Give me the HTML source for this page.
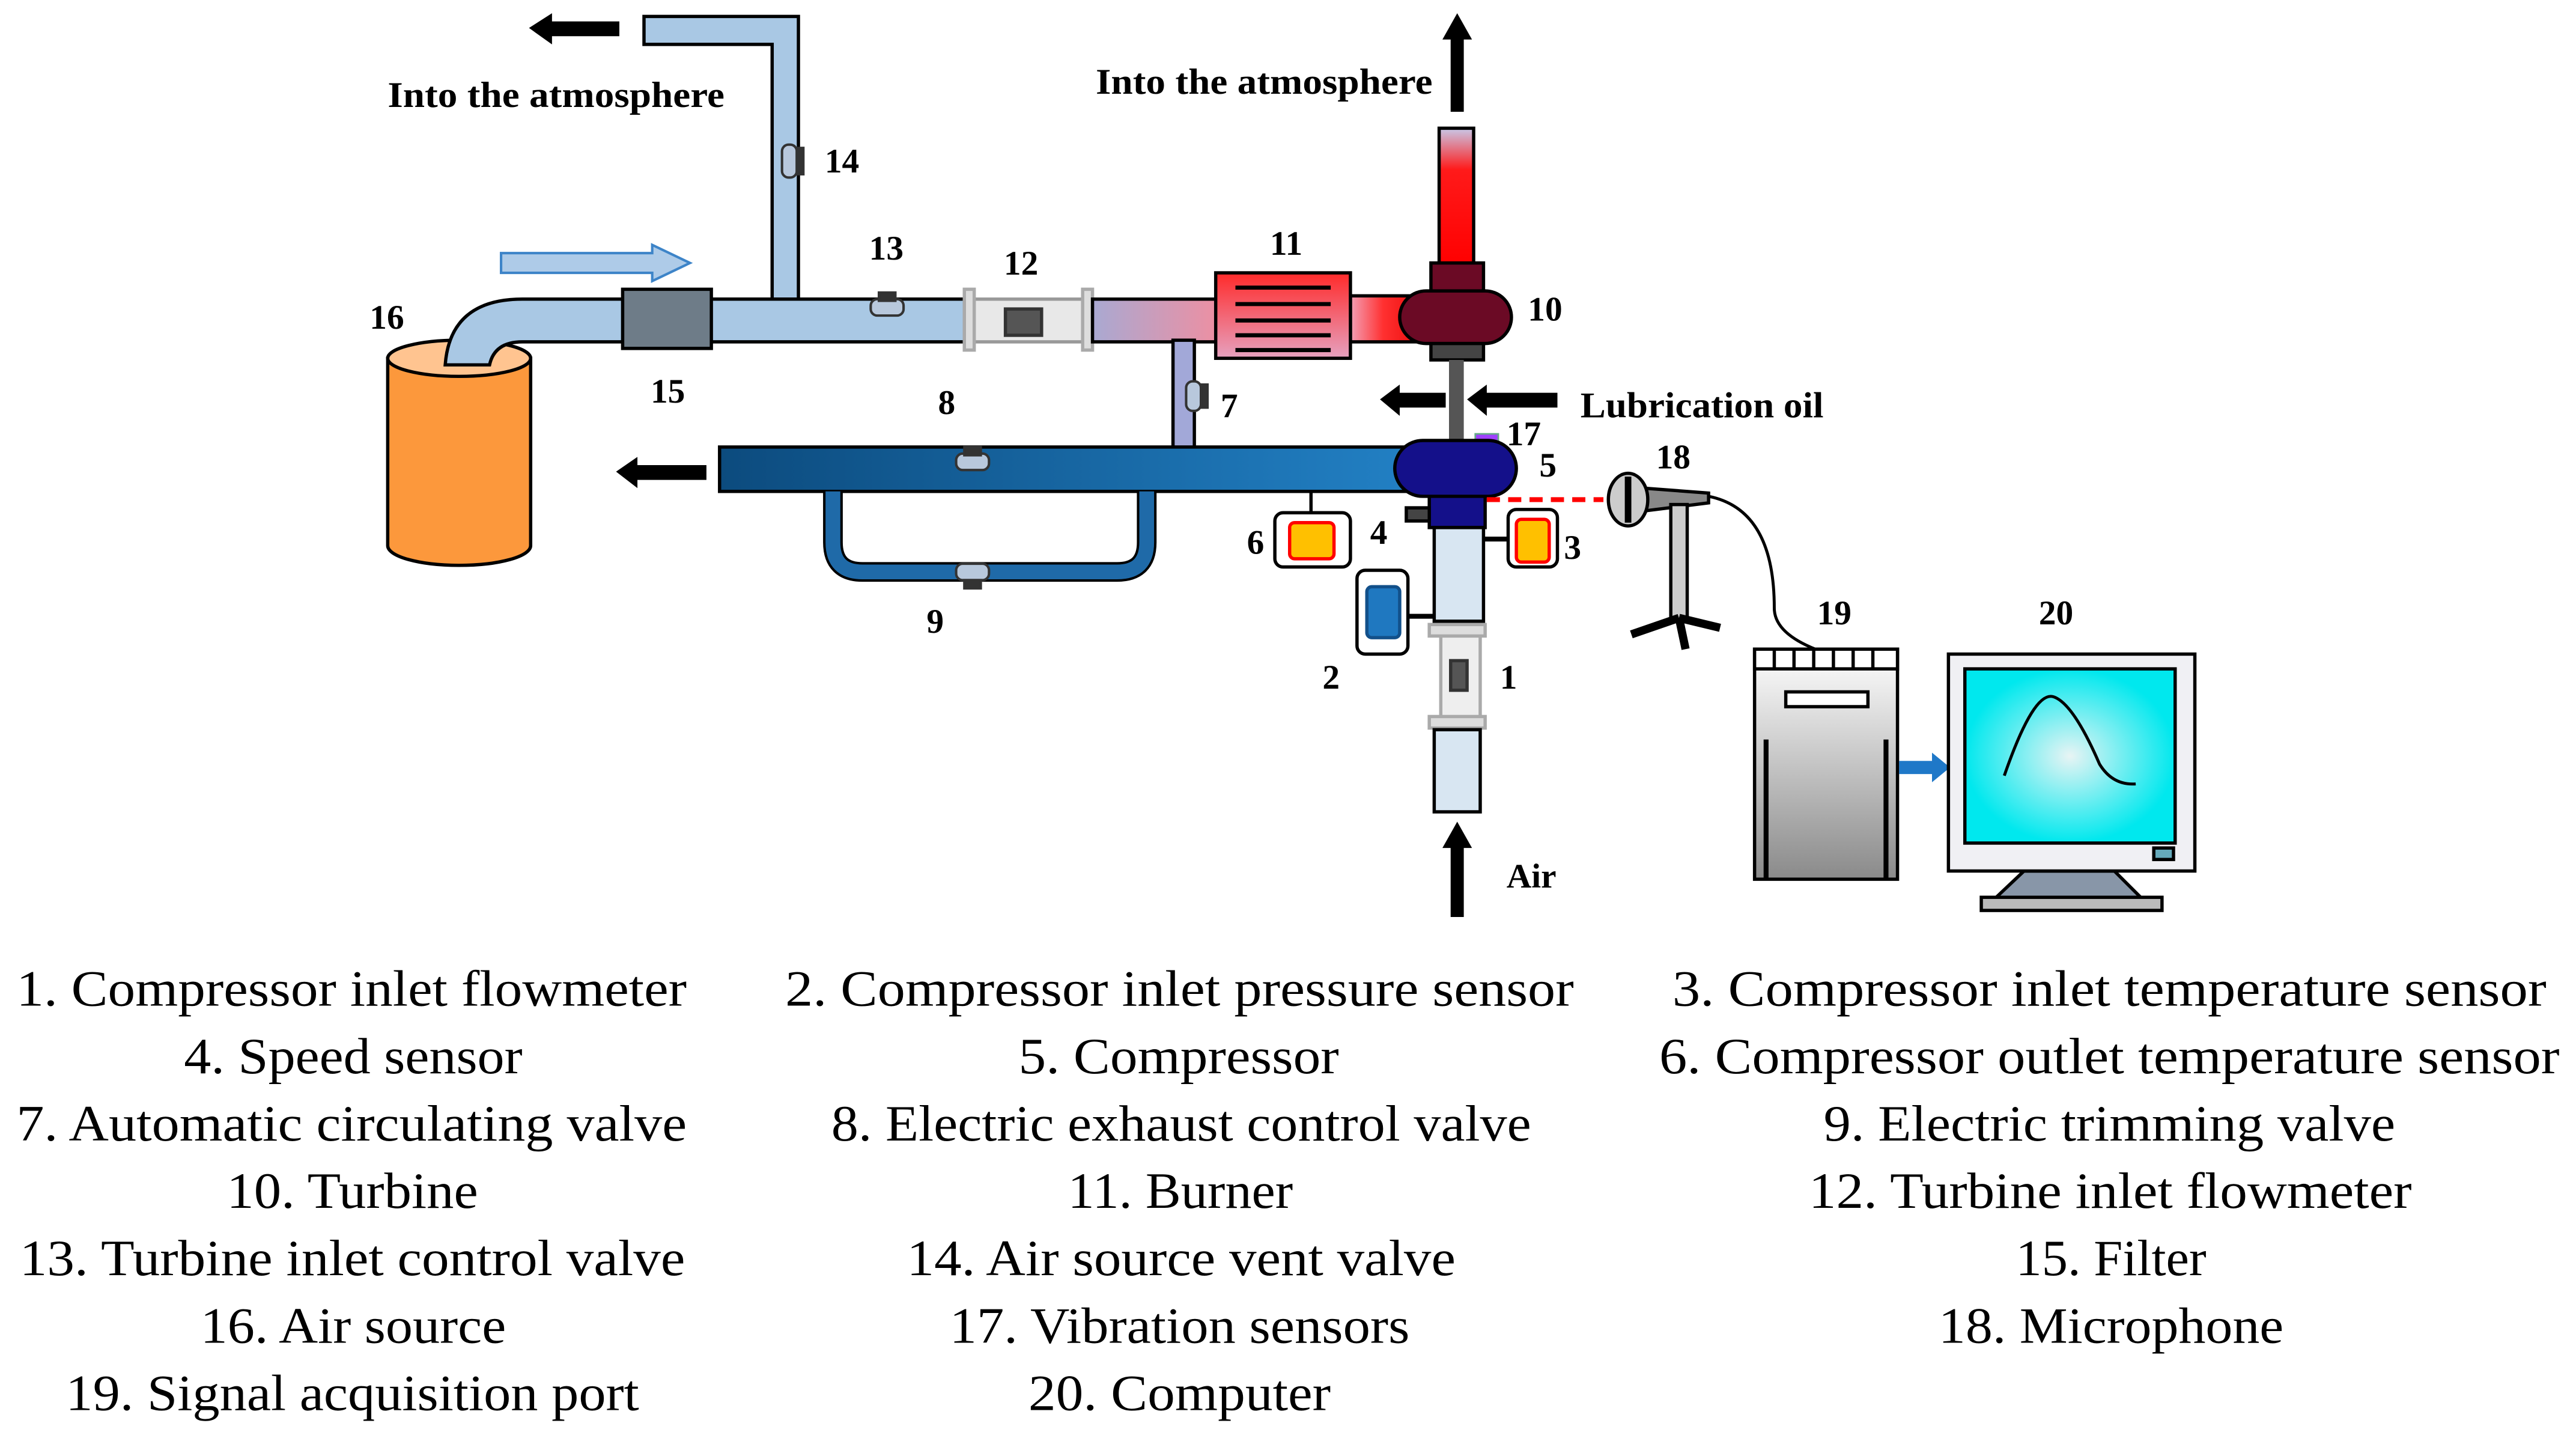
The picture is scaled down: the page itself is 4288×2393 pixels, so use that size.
<!DOCTYPE html>
<html><head><meta charset="utf-8"><style>
html,body{margin:0;padding:0;background:#fff;}
svg{display:block;}
</style></head><body>
<svg width="4288" height="2393" viewBox="0 0 1568 875" xmlns="http://www.w3.org/2000/svg">
<defs>
<linearGradient id="gp" x1="0" x2="1" y1="0" y2="0"><stop offset="0" stop-color="#a9a9d2"/><stop offset="1" stop-color="#f08ea0"/></linearGradient>
<linearGradient id="gb" x1="0" x2="0" y1="0" y2="1"><stop offset="0" stop-color="#ff2a2a"/><stop offset="1" stop-color="#e6a2c0"/></linearGradient>
<linearGradient id="gr" x1="0" x2="1"><stop offset="0" stop-color="#f3a0b6"/><stop offset="0.5" stop-color="#ff3030"/><stop offset="1" stop-color="#ee1010"/></linearGradient>
<linearGradient id="gs" x1="0" x2="0" y1="0" y2="1"><stop offset="0" stop-color="#c8c8e8"/><stop offset="0.3" stop-color="#ff1a1a"/><stop offset="1" stop-color="#ff0000"/></linearGradient>
<linearGradient id="gd" x1="0" x2="1"><stop offset="0" stop-color="#0c4b7e"/><stop offset="1" stop-color="#2280c4"/></linearGradient>
<linearGradient id="gc" x1="0" x2="0" y1="0" y2="1"><stop offset="0" stop-color="#ffffff"/><stop offset="1" stop-color="#8a8a8a"/></linearGradient>
<radialGradient id="gm"><stop offset="0" stop-color="#e8f4f4"/><stop offset="1" stop-color="#00e8ee"/></radialGradient>
</defs>
<g stroke="#000" stroke-width="2">
<!-- vent pipe -->
<path d="M392 10 H486 V182 H470 V27 H392 Z" fill="#a9c8e4"/>
<!-- cylinder -->
<path d="M236 218 V332 A43.5 12 0 0 0 323 332 V218 Z" fill="#fc983c"/>
<ellipse cx="279.5" cy="218" rx="43.5" ry="11" fill="#ffc490"/>
<!-- main pipe with elbow -->
<path d="M318 182 H590 V208 H318 Q301 208 298 222 H271 Q274 182 318 182 Z" fill="#a9c8e4"/>
<rect x="379" y="176" width="54" height="36" fill="#6e7c88"/>
<!-- flowmeter 12 -->
<rect x="587" y="182" width="78" height="26" fill="#e8e8e8" stroke="#999"/>
<rect x="587" y="176" width="6" height="37" fill="#ddd" stroke="#aaa"/>
<rect x="659" y="176" width="6" height="37" fill="#ddd" stroke="#aaa"/>
<rect x="612" y="188" width="22" height="16" fill="#555" stroke="#333"/>
<!-- gradient pipe & branch -->
<rect x="665" y="182" width="80" height="26" fill="url(#gp)"/>
<rect x="714" y="207" width="13" height="66" fill="#a2a8d8"/>
<!-- burner -->
<rect x="822" y="180" width="40" height="28" fill="url(#gr)"/>
<rect x="740" y="166" width="82" height="52" fill="url(#gb)"/>
<g stroke-width="2.5"><line x1="752" y1="175" x2="810" y2="175"/><line x1="752" y1="185" x2="810" y2="185"/><line x1="752" y1="195" x2="810" y2="195"/><line x1="752" y1="204" x2="810" y2="204"/><line x1="752" y1="213" x2="810" y2="213"/></g>
<!-- stack & turbine -->
<rect x="876" y="78" width="21" height="84" fill="url(#gs)"/>
<rect x="871" y="160" width="32" height="20" fill="#6b0a25"/>
<rect x="871" y="204" width="32" height="15" fill="#444"/>
<rect x="882" y="219" width="9" height="55" fill="#555" stroke="none"/>
<rect x="852" y="177" width="68" height="32" rx="16" fill="#6b0a25"/>
<!-- compressor outlet pipe -->
<rect x="438" y="272" width="422" height="27" fill="url(#gd)"/>
<path d="M507 299 V330 Q507 348 525 348 H680 Q698 348 698 330 V299" fill="none" stroke="#000" stroke-width="12"/>
<path d="M507 299 V330 Q507 348 525 348 H680 Q698 348 698 330 V299" fill="none" stroke="#1f6aa8" stroke-width="9"/>
<rect x="898" y="264" width="14" height="7" fill="#a040ff" stroke="#6a8" stroke-width="1"/>
<rect x="870" y="296" width="34" height="25" fill="#14108a"/>
<rect x="856" y="309" width="14" height="8" fill="#444"/>
<rect x="849" y="268" width="74" height="34" rx="17" fill="#14108a"/>
<!-- inlet -->
<rect x="873" y="321" width="30" height="57" fill="#d8e6f2"/>
<rect x="877" y="383" width="24" height="60" fill="#eee" stroke="#aaa"/>
<rect x="870" y="380" width="34" height="7" fill="#ddd" stroke="#aaa"/>
<rect x="870" y="436" width="34" height="7" fill="#ddd" stroke="#aaa"/>
<rect x="883" y="402" width="10" height="18" fill="#555" stroke="#333"/>
<rect x="873" y="444" width="28" height="50" fill="#d8e6f2"/>
<!-- sensors -->
<line x1="798" y1="299" x2="798" y2="312"/>
<rect x="776" y="312" width="46" height="33" rx="5" fill="#fff"/>
<rect x="785" y="318" width="27" height="22" rx="3" fill="#ffc000" stroke="#f00" stroke-width="2"/>
<line x1="903" y1="328" x2="918" y2="328" stroke-width="3"/>
<rect x="918" y="310" width="30" height="35" rx="5" fill="#fff"/>
<rect x="923" y="316" width="20" height="26" rx="3" fill="#ffc000" stroke="#f00" stroke-width="2"/>
<line x1="857" y1="375" x2="873" y2="375" stroke-width="3"/>
<rect x="826" y="347" width="31" height="51" rx="5" fill="#fff"/>
<rect x="832" y="357" width="20" height="31" rx="3" fill="#1f78c0" stroke="#12508a"/>
<!-- valves -->
<g fill="#b8c8dc" stroke="#333" stroke-width="1.5">
<rect x="476" y="88" width="9" height="20" rx="4"/><rect x="485" y="90" width="4" height="16" fill="#333"/>
<rect x="530" y="182" width="20" height="10" rx="4"/><rect x="535" y="178" width="10" height="5" fill="#333"/>
<rect x="722" y="232" width="9" height="18" rx="4"/><rect x="731" y="234" width="4" height="14" fill="#333"/>
<rect x="582" y="276" width="20" height="10" rx="4"/><rect x="587" y="272" width="10" height="5" fill="#333"/>
<rect x="582" y="343" width="20" height="10" rx="4"/><rect x="587" y="353" width="10" height="5" fill="#333"/>
</g>
</g>
<!-- arrows -->
<g fill="#000">
<path d="M322 17 L336 8 V13 H377 V22 H336 V27 Z"/>
<path d="M887 8 L896 24 H891 V68 H883 V24 H878 Z"/>
<path d="M840 243 L852 234 V239 H880 V248 H852 V253 Z"/>
<path d="M893 243 L905 234 V239 H948 V248 H905 V253 Z"/>
<path d="M375 287 L388 278 V283 H430 V292 H388 V297 Z"/>
<path d="M887 500 L896 516 H891 V558 H883 V516 H878 Z"/>
</g>
<path d="M305 154 H397 V149 L420 160 L397 171 V166 H305 Z" fill="#aecbe8" stroke="#3d84c8" stroke-width="1.5"/>
<line x1="905" y1="304" x2="976" y2="304" stroke="#f00" stroke-width="3" stroke-dasharray="8,5"/>
<!-- microphone -->
<g stroke="#000" stroke-width="2">
<path d="M1040 302 Q1080 310 1080 370 Q1080 385 1105 395" fill="none" stroke-width="1.8"/>
<path d="M1000 297 L1040 300 L1040 306 L1000 311 Z" fill="#888"/>
<ellipse cx="991" cy="304" rx="12" ry="16" fill="#ccc"/>
<line x1="991" y1="290" x2="991" y2="318" stroke-width="4"/>
<rect x="1017" y="307" width="10" height="70" fill="#ccc"/>
<path d="M1022 376 L993 386 M1022 376 L1047 382 M1022 376 L1026 395" stroke-width="5"/>
</g>
<!-- device 19 -->
<g stroke="#000" stroke-width="2">
<rect x="1068" y="395" width="87" height="140" fill="url(#gc)"/>
<rect x="1068" y="395" width="87" height="12" fill="#fff"/>
<path d="M1080 395 V407 M1092 395 V407 M1104 395 V407 M1116 395 V407 M1128 395 V407 M1140 395 V407"/>
<rect x="1087" y="421" width="50" height="9" fill="#fff"/>
<path d="M1075 450 V535 M1148 450 V535" stroke-width="3"/>
</g>
<path d="M1156 463 H1176 V458 L1187 467 L1176 476 V471 H1156 Z" fill="#1f78c8"/>
<!-- monitor -->
<g stroke="#000" stroke-width="2">
<path d="M1232 530 L1213 548 H1305 L1287 530 Z" fill="#8896a8"/>
<rect x="1206" y="546" width="110" height="8" fill="#bbb"/>
<rect x="1186" y="398" width="150" height="132" fill="#f0f0f4"/>
<rect x="1196" y="407" width="128" height="106" fill="url(#gm)"/>
<rect x="1311" y="516" width="12" height="7" fill="#6ab"/>
<path d="M1220 472 Q1238 420 1250 424 Q1262 428 1278 465 Q1286 478 1300 477" fill="none" stroke-width="1.8"/>
</g>
<!-- labels -->
<g font-family="Liberation Serif, serif" font-weight="bold" font-size="21" fill="#000">
<text x="236" y="65" font-size="22" textLength="205" lengthAdjust="spacingAndGlyphs">Into  the atmosphere</text>
<text x="667" y="57" font-size="22" textLength="205" lengthAdjust="spacingAndGlyphs">Into  the atmosphere</text>
<text x="962" y="254" font-size="22" textLength="148" lengthAdjust="spacingAndGlyphs">Lubrication oil</text>
<text x="917" y="540">Air</text>
<text x="502" y="105">14</text>
<text x="529" y="158">13</text>
<text x="611" y="167">12</text>
<text x="773" y="155">11</text>
<text x="930" y="195">10</text>
<text x="225" y="200">16</text>
<text x="396" y="245">15</text>
<text x="571" y="252">8</text>
<text x="743" y="254">7</text>
<text x="917" y="271">17</text>
<text x="937" y="290">5</text>
<text x="1008" y="285">18</text>
<text x="834" y="331">4</text>
<text x="759" y="337">6</text>
<text x="952" y="340">3</text>
<text x="564" y="385">9</text>
<text x="805" y="419">2</text>
<text x="913" y="419">1</text>
<text x="1106" y="380">19</text>
<text x="1241" y="380">20</text>
</g>
<g font-family="Liberation Serif, serif" font-size="31" fill="#000" lengthAdjust="spacingAndGlyphs">
<text x="10" y="612" textLength="408" lengthAdjust="spacingAndGlyphs">1. Compressor inlet flowmeter</text>
<text x="478" y="612" textLength="480" lengthAdjust="spacingAndGlyphs">2. Compressor inlet pressure sensor</text>
<text x="1018" y="612" textLength="532" lengthAdjust="spacingAndGlyphs">3. Compressor inlet temperature sensor</text>
<text x="112" y="653" textLength="206" lengthAdjust="spacingAndGlyphs">4. Speed sensor</text>
<text x="620" y="653" textLength="195" lengthAdjust="spacingAndGlyphs">5. Compressor</text>
<text x="1010" y="653" textLength="548" lengthAdjust="spacingAndGlyphs">6. Compressor outlet temperature sensor</text>
<text x="10" y="694" textLength="408" lengthAdjust="spacingAndGlyphs">7. Automatic circulating valve</text>
<text x="506" y="694" textLength="426" lengthAdjust="spacingAndGlyphs">8. Electric exhaust control valve</text>
<text x="1110" y="694" textLength="348" lengthAdjust="spacingAndGlyphs">9. Electric trimming valve</text>
<text x="138" y="735" textLength="153" lengthAdjust="spacingAndGlyphs">10. Turbine</text>
<text x="650" y="735" textLength="137" lengthAdjust="spacingAndGlyphs">11. Burner</text>
<text x="1101" y="735" textLength="367" lengthAdjust="spacingAndGlyphs">12. Turbine inlet flowmeter</text>
<text x="12" y="776" textLength="405" lengthAdjust="spacingAndGlyphs">13. Turbine inlet control valve</text>
<text x="552" y="776" textLength="334" lengthAdjust="spacingAndGlyphs">14. Air source vent valve</text>
<text x="1227" y="776" textLength="116" lengthAdjust="spacingAndGlyphs">15. Filter</text>
<text x="122" y="817" textLength="186" lengthAdjust="spacingAndGlyphs">16. Air source</text>
<text x="578" y="817" textLength="280" lengthAdjust="spacingAndGlyphs">17. Vibration sensors</text>
<text x="1180" y="817" textLength="210" lengthAdjust="spacingAndGlyphs">18. Microphone</text>
<text x="40" y="858" textLength="349" lengthAdjust="spacingAndGlyphs">19. Signal acquisition port</text>
<text x="626" y="858" textLength="184" lengthAdjust="spacingAndGlyphs">20. Computer</text>
</g>
</svg>
</body></html>
